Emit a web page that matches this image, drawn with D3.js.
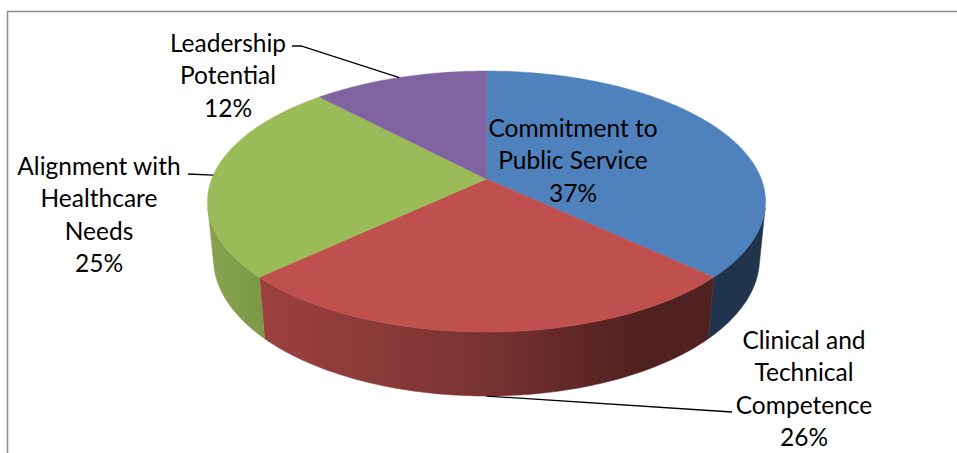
<!DOCTYPE html>
<html>
<head>
<meta charset="utf-8">
<script src="https://cdn.jsdelivr.net/npm/d3@7"></script>
<style>
  html, body { margin: 0; padding: 0; background: #fff; }
  svg { display: block; }
  text { font-family: Lato, "Open Sans", sans-serif; fill: #000; }
</style>
</head>
<body>
<svg id="chart" width="957" height="453"></svg>
<script>
// Chart data
const categories = [
  "Commitment to Public Service",
  "Clinical and Technical Competence",
  "Alignment with Healthcare Needs",
  "Leadership Potential"
];
const values = [37, 26, 25, 12];
const labelLines = [
  ["Commitment to", "Public Service"],
  ["Clinical and", "Technical", "Competence"],
  ["Alignment with", "Healthcare", "Needs"],
  ["Leadership", "Potential"]
];
const colors = ["#4f81bd", "#c0504d", "#9bbb59", "#8064a2"];

const W = 957, H = 453;
const svg = d3.select("#chart");

// Frame around the plot area
svg.append("rect")
  .attr("x", 7.5).attr("y", 11.5)
  .attr("width", W + 10).attr("height", H + 10)
  .attr("fill", "none").attr("stroke", "#8c8c8c").attr("stroke-width", 1.5);

// Perspective camera for the tilted disc
const cx = 486.5, cy = 179;       // projected centre of the top face
const F = 274.8;                  // focal scale (px per radius)
const alpha = Math.asin(0.4607);  // elevation of the viewpoint
const rho = 0.1943;               // radius / camera distance
const thick = 0.2361;             // disc thickness / radius

// theta: clockwise from the back of the disc (screen top); yh: 0 top face, -thick bottom face;
// r: fraction of the radius
function proj(theta, yh, r = 1) {
  const xh = r * Math.sin(theta), zh = -r * Math.cos(theta);
  const den = 1 - rho * (zh * Math.cos(alpha) + yh * Math.sin(alpha));
  return [cx + F * xh / den, cy - F * (yh * Math.cos(alpha) - zh * Math.sin(alpha)) / den];
}

const pie = d3.pie().sort(null).value(d => d).startAngle(0).endAngle(2 * Math.PI);
const arcs = pie(values);
const line = d3.line();

function rim(a0, a1, yh) {
  const n = Math.max(2, Math.ceil(Math.abs(a1 - a0) / (Math.PI / 180)));
  return d3.range(n + 1).map(i => proj(a0 + (a1 - a0) * i / n, yh));
}

// Horizontal shading of the outer wall (lighter toward the left)
const shadeX = d3.scaleLinear()
  .domain([205, 262, 380, 486, 560, 640, 775])
  .range([0.88, 0.81, 0.72, 0.63, 0.52, 0.41, 0.41])
  .clamp(true);

const defs = svg.append("defs");
const gx0 = 200, gx1 = 780;
colors.forEach((c, i) => {
  const g = defs.append("linearGradient")
    .attr("id", "wall" + i)
    .attr("gradientUnits", "userSpaceOnUse")
    .attr("x1", gx0).attr("x2", gx1).attr("y1", 0).attr("y2", 0);
  const base = d3.rgb(c);
  d3.range(0, 30).forEach(k => {
    const x = gx0 + (gx1 - gx0) * k / 29;
    const f = shadeX(x);
    g.append("stop")
      .attr("offset", (k / 29))
      .attr("stop-color", d3.rgb(base.r * f, base.g * f, base.b * f).formatHex());
  });
});

// Visible part of the cylinder wall (silhouette generators)
const sil = Math.acos(-rho / Math.cos(alpha));
const visA = sil, visB = 2 * Math.PI - sil;

const walls = svg.append("g");
arcs.forEach((d, i) => {
  const a0 = Math.max(d.startAngle, visA), a1 = Math.min(d.endAngle, visB);
  if (a1 <= a0) return;
  const pts = rim(a0, a1, 0).concat(rim(a1, a0, -thick));
  walls.append("path")
    .attr("d", line(pts) + "Z")
    .attr("fill", `url(#wall${i})`)
    .attr("stroke", `url(#wall${i})`)
    .attr("stroke-width", 0.5);
});

// Top faces, each a wedge from the disc centre
const centre = proj(0, 0, 0);
const tops = svg.append("g");
arcs.forEach((d, i) => {
  const pts = [centre].concat(rim(d.startAngle, d.endAngle, 0));
  tops.append("path")
    .attr("d", line(pts) + "Z")
    .attr("fill", colors[i])
    .attr("stroke", colors[i])
    .attr("stroke-width", 0.5);
});

// Labels: category lines followed by the percentage
const fontSize = 24.5, lineH = 32.5;
const labelLayout = [
  { x: 573, y: 128, anchor: null },
  { x: 804, y: 340, anchor: { side: "bottom", to: [732, 412] } },
  { x: 99,  y: 166, anchor: { side: "top", to: [188, 174] } },
  { x: 228, y: 43,  anchor: { side: "top", to: [292, 46], knee: [301, 46] } }
];

const labels = svg.append("g");
arcs.forEach((d, i) => {
  const L = labelLayout[i];
  const lines = labelLines[i].concat([values[i] + "%"]);
  const t = labels.append("text")
    .attr("text-anchor", "middle")
    .attr("font-size", fontSize);
  lines.forEach((s, k) => {
    t.append("tspan")
      .attr("x", L.x)
      .attr("y", L.y + k * lineH)
      .attr("dy", "0.35em")
      .text(s);
  });
  if (L.anchor) {
    const mid = (d.startAngle + d.endAngle) / 2;
    const p = proj(mid, L.anchor.side === "bottom" ? -thick : 0);
    const pts = [p];
    if (L.anchor.knee) pts.push(L.anchor.knee);
    pts.push(L.anchor.to);
    labels.append("path")
      .attr("d", line(pts))
      .attr("fill", "none")
      .attr("stroke", "#000")
      .attr("stroke-width", 1.3);
  }
});
</script>
</body>
</html>
